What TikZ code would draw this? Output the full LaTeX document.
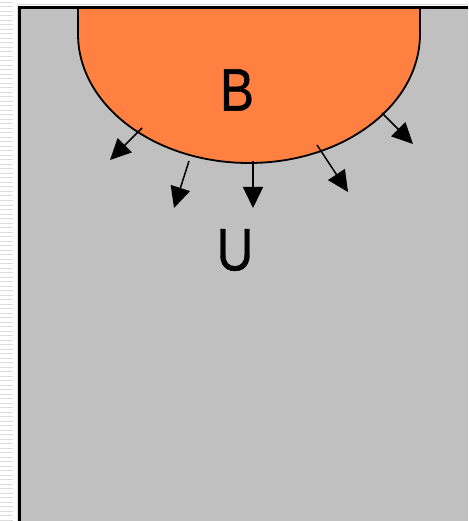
\documentclass[tikz,border=0pt]{standalone}
\usepackage{fontspec}
\setmainfont{Liberation Sans}
\usetikzlibrary{arrows.meta}
\definecolor{panel}{HTML}{C0C0C0}
\definecolor{blob}{HTML}{FF8040}
\definecolor{rule}{HTML}{DCDCDC}
\begin{document}
\begin{tikzpicture}[x=1pt,y=-1pt,
  flux/.style={line width=1.5pt,-{Triangle[length=21pt,width=20pt]}},
  letter/.style={inner sep=0pt,font=\fontsize{60}{60}\selectfont\addfontfeature{FakeBold=0.8}}]
\useasboundingbox (0,0) rectangle (468,521);
\fill[white] (0,0) rectangle (468,521);
% ruled strip on the left margin
\foreach \k in {0,...,115}
  \draw[rule,line width=1pt] (0,{2.5+4.5*\k}) -- (13,{2.5+4.5*\k});
\draw[rule,line width=1pt] (17,5) -- (17,521);
\draw[rule,line width=1pt] (17,5) -- (468,5);
% domain U
\fill[panel] (19,7) rectangle (468,521);
% region B
\filldraw[fill=blob,draw=black,line width=1.8pt]
  (78,7) -- (78,34) arc[start angle=180,end angle=0,x radius=171,y radius=129] -- (420,7);
% frame of the domain
\draw[black,line width=2.5pt] (19.5,521) -- (19.5,7.5) -- (468,7.5);
% labels
\node[letter] (b) at (237,90) {\scalebox{0.85}[1]{B}};
\node[letter] (u) at (235,250) {\scalebox{0.85}[1]{U}};
% outward normals
\coordinate (t1) at (142,128); \coordinate (h1) at (110,160);
\coordinate (t2) at (189,161); \coordinate (h2) at (174,208);
\coordinate (t3) at (253,161); \coordinate (h3) at (253,208);
\coordinate (t4) at (317,145); \coordinate (h4) at (348,192);
\coordinate (t5) at (382,113); \coordinate (h5) at (413,144);
\foreach \i in {1,...,5} \draw[flux] (t\i) -- (h\i);
\end{tikzpicture}
\end{document}
